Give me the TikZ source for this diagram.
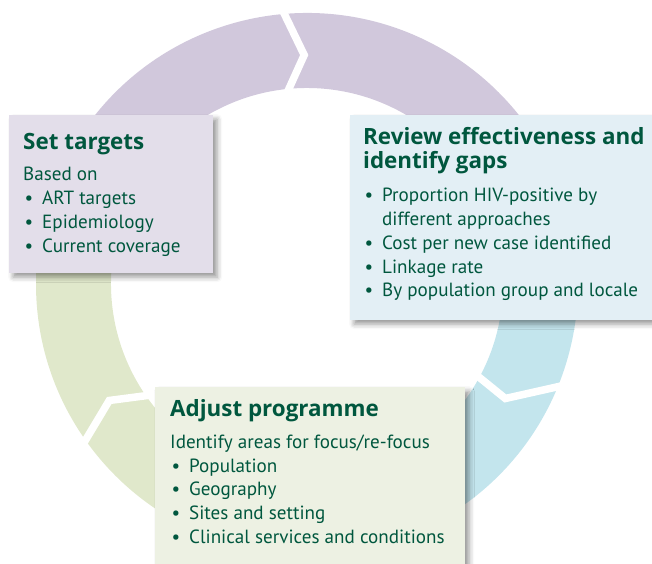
\documentclass[tikz,border=0pt]{standalone}
\usepackage{fontspec}
\setmainfont{PT Sans}
\newfontfamily\headfont{Open Sans}
\usetikzlibrary{shadows.blur}

\definecolor{ringlilac}{HTML}{D1C8DC}
\definecolor{ringblue}{HTML}{C3E5ED}
\definecolor{ringgreen}{HTML}{E0E8CB}
\definecolor{boxlilac}{HTML}{E3DEEA}
\definecolor{boxblue}{HTML}{E3EFF5}
\definecolor{boxgreen}{HTML}{EDF1E3}
\definecolor{leaf}{HTML}{00573E}

\tikzset{
  panel/.style={anchor=north west, inner sep=0pt, draw=none,
    blur shadow={shadow xshift=4pt, shadow yshift=-4pt, shadow blur radius=5pt, shadow opacity=40}},
  headtext/.style={anchor=base west, inner sep=0pt, text=leaf, align=left,
    font=\headfont\fontsize{22.4}{24}\selectfont\bfseries},
  bodytext/.style={anchor=base west, inner sep=0pt, text=leaf, align=left,
    font=\fontsize{19.1}{23.7}\selectfont},
  gap/.style={white, line width=7.5pt, line join=miter}
}
\newcommand{\bul}{\makebox[19pt][l]{\hspace{1.5pt}\textbullet}}

\begin{document}
\begin{tikzpicture}[x=1pt,y=-1pt]
            \useasboundingbox (0,0) rectangle (652,563);

            % the ring
            \begin{scope}[shift={(307,284)}, y=1pt]
            \fill[ringlilac] (150:271) arc[start angle=150, end angle=30, radius=271]
                -- (30:196) arc[start angle=30, end angle=150, radius=196] -- cycle;
            \fill[ringblue] (30:271) arc[start angle=30, end angle=-90, radius=271]
                -- (-90:196) arc[start angle=-90, end angle=30, radius=196] -- cycle;
            \fill[ringgreen] (-90:271) arc[start angle=-90, end angle=-210, radius=271]
                -- (-210:196) arc[start angle=-210, end angle=-90, radius=196] -- cycle;
            \draw[gap] (96.7:188) -- (90.7:229) -- (95.5:280);
            \draw[gap] (-28:188) -- (-30:229) -- (-21:280);
            \draw[gap] (216:188) -- (210.5:229.5) -- (216:280);
            \end{scope}

            % boxes
            \node (set) at (9,115) [panel, fill=boxlilac, minimum width=204pt, minimum height=158pt] {};
            \node (review) at (350,115) [panel, fill=boxblue, minimum width=310pt, minimum height=205pt] {};
            \node (adjust) at (155,387) [panel, fill=boxgreen, minimum width=310pt, minimum height=180pt] {};

            % texts (placed at the baseline of their last line)
            \node (sethead) at (23,149) [headtext] {Set targets};
            \node (setbody) at (23,252) [bodytext] {Based on\\ \bul ART targets\\ \bul Epidemiology\\ \bul Current coverage};

            \node (reviewhead) at (363,168.3) [headtext] {Review effectiveness and\\identify gaps};
            \node (reviewbody) at (363,296.7) [bodytext] {\bul Proportion HIV-positive by\\ \hspace*{19pt}different approaches\\
                \bul Cost per new case identified\\ \bul Linkage rate\\ \bul By population group and locale};

            \node (adjusthead) at (170,416.7) [headtext] {Adjust programme};
            \node (adjustbody) at (170,543.3) [bodytext] {Identify areas for focus/re-focus\\ \bul Population\\ \bul Geography\\
                \bul Sites and setting\\ \bul Clinical services and conditions};

        \end{tikzpicture}
\end{document}
